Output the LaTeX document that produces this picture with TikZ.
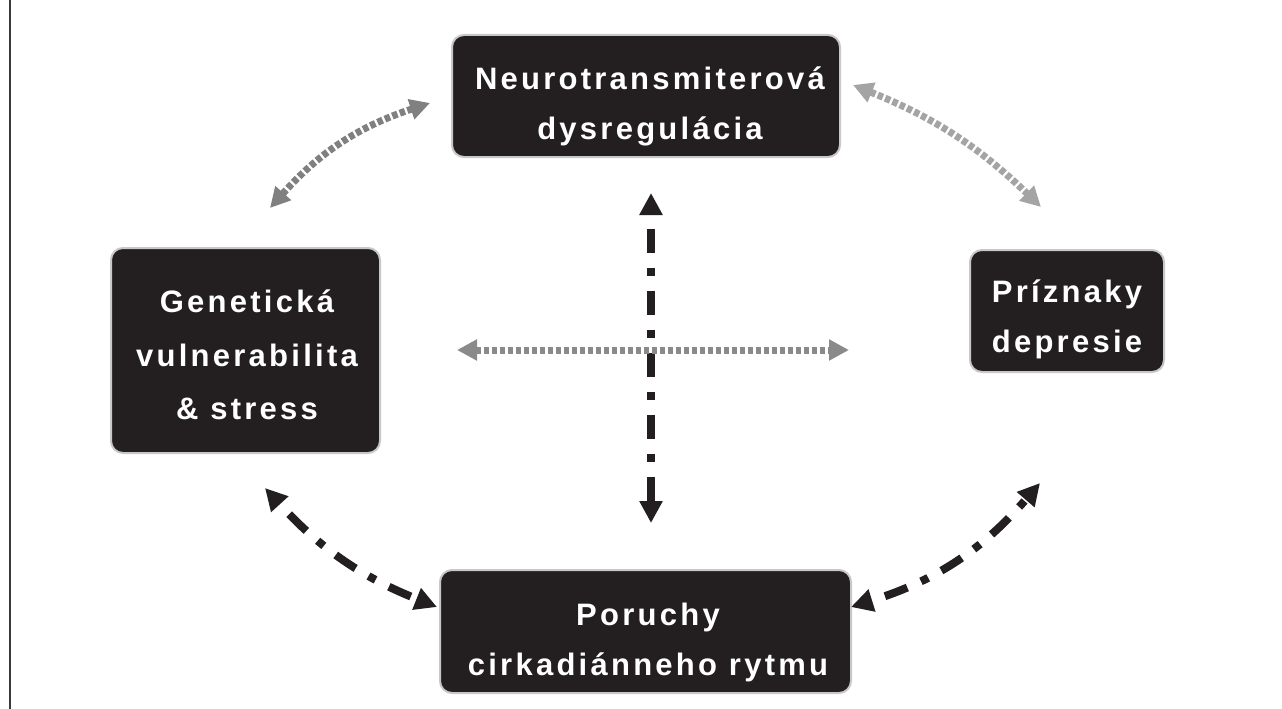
\documentclass[tikz,border=0pt]{standalone}
\usepackage{fontspec}
\newfontfamily\boxfont[LetterSpace=10.5]{Liberation Sans}
\usetikzlibrary{arrows.meta}
\definecolor{boxblack}{HTML}{231F20}
\definecolor{boxedge}{HTML}{C8C8C8}
\definecolor{grayA}{HTML}{808080}
\definecolor{grayB}{HTML}{A4A4A4}
\definecolor{grayC}{HTML}{8A8A8A}
\definecolor{frameline}{HTML}{3A3A3A}
\begin{document}
\begin{tikzpicture}[x=1pt,y=-1pt,
  box/.style={draw=boxedge, line width=2pt, fill=boxblack, rounded corners=12pt, inner sep=0pt},
  lbl/.style={text=white, align=center, inner sep=0pt, font=\boxfont\bfseries\fontsize{31}{50}\selectfont},
  grayarrow/.style={line width=7pt, dash pattern=on 5.5pt off 2.5pt, {Triangle[length=20pt,width=20pt]}-{Triangle[length=20pt,width=20pt]}},
  blackarrow/.style={draw=boxblack, line width=8pt, dash pattern=on 24pt off 15pt on 8pt off 15pt, dash phase=47pt, {Triangle[length=22pt,width=22pt]}-{Triangle[length=22pt,width=22pt]}}
]
\useasboundingbox (0,0) rectangle (1282,709);
\fill[white] (0,0) rectangle (1282,709);
\draw[frameline, line width=2pt] (9.5,0) -- (9.5,709);

% boxes
\node[box, minimum width=388pt, minimum height=122pt] (nt) at (646,96) {};
\node[box, minimum width=269pt, minimum height=205pt] (gv) at (245.5,350.5) {};
\node[box, minimum width=194pt, minimum height=122pt] (pd) at (1067,311) {};
\node[box, minimum width=411pt, minimum height=123pt] (pc) at (645.5,631.5) {};

% labels
\node[lbl] (ntT) at (650,106.5) {Neurotransmiterová\\dysregulácia};
\node[lbl, font=\boxfont\bfseries\fontsize{31}{53.5}\selectfont] (gvT) at (247,355) {Genetická\\vulnerabilita\\\&~stress};
\node[lbl] (pdT) at (1067,319) {Príznaky\\depresie};
\node[lbl] (pcT) at (648,642) {Poruchy\\cirkadiánneho rytmu};

% arrow end points
\coordinate (a1) at (270,208);
\coordinate (a2) at (430,103);
\coordinate (b1) at (853,85);
\coordinate (b2) at (1041,207);
\coordinate (c1) at (265,488);
\coordinate (c2) at (437,607);
\coordinate (d1) at (851,607);
\coordinate (d2) at (1040,483);
\coordinate (e1) at (651,193);
\coordinate (e2) at (651,523);
\coordinate (f1) at (457,350);
\coordinate (f2) at (849,350);

% black dash-dot connectors
\draw[blackarrow] (e1) -- (e2);
\draw[blackarrow] (c1) to[bend right=13] (c2);
\draw[blackarrow] (d1) to[bend right=16] (d2);

% gray dotted connectors
\draw[grayarrow, draw=grayA] (a1) to[bend left=15] (a2);
\draw[grayarrow, draw=grayB] (b1) to[bend left=11] (b2);
\draw[grayarrow, draw=grayC] (f1) -- (f2);
\end{tikzpicture}
\end{document}
